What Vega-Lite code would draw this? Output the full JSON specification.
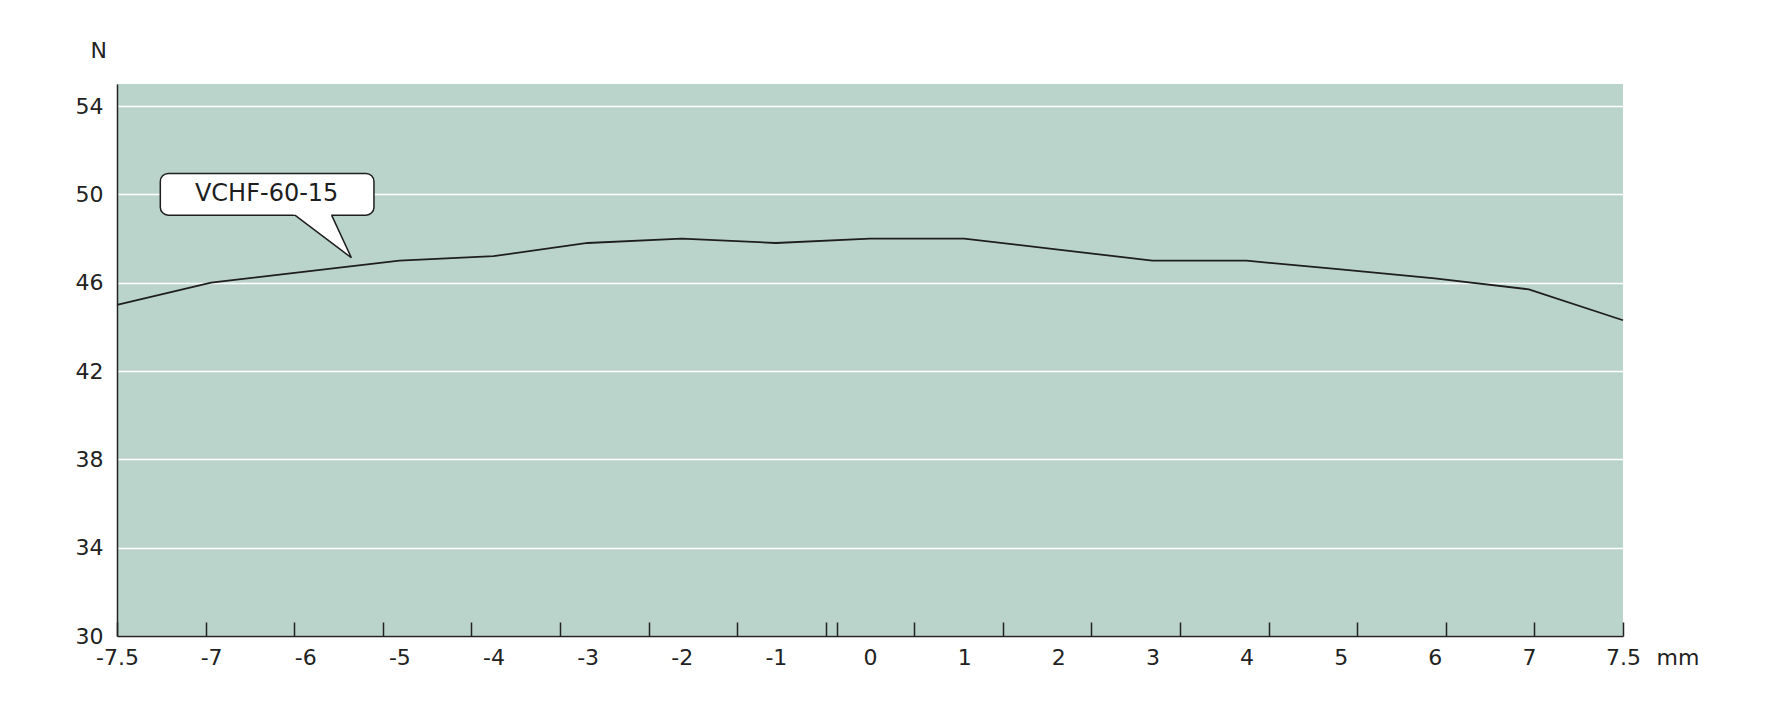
{
  "$schema": "https://vega.github.io/schema/vega-lite/v6.json",
  "width": 1506,
  "height": 552,
  "autosize": {"type": "none"},
  "padding": {"left": 117, "top": 84, "right": 153, "bottom": 86},
  "config": {
    "font": "DejaVu Sans",
    "view": {"fill": "#BBD4CB", "stroke": null},
    "axis": {"labelFont": "DejaVu Sans", "titleFont": "DejaVu Sans"},
    "axisY": {"titleFontSize": 22}
  },
  "datasets": {
    "curve": [
      {"mm": -7.5, "N": 45.0},
      {"mm": -7, "N": 46.0},
      {"mm": -6, "N": 46.5},
      {"mm": -5, "N": 47.0},
      {"mm": -4, "N": 47.2},
      {"mm": -3, "N": 47.8},
      {"mm": -2, "N": 48.0},
      {"mm": -1, "N": 47.8},
      {"mm": 0, "N": 48.0},
      {"mm": 1, "N": 48.0},
      {"mm": 2, "N": 47.5},
      {"mm": 3, "N": 47.0},
      {"mm": 4, "N": 47.0},
      {"mm": 5, "N": 46.6},
      {"mm": 6, "N": 46.2},
      {"mm": 7, "N": 45.7},
      {"mm": 7.5, "N": 44.3}
    ],
    "callout": [
      {"label": "VCHF-60-15", "mm": -7.27, "mm2": -5.27, "N": 50.95, "N2": 49.06, "mm_text": -6.41, "N_text": 50.0}
    ],
    "pointer_fill": [
      {"N": 49.13, "mm": -6.132, "mm2": -5.728},
      {"N": 47.13, "mm": -5.51, "mm2": -5.51}
    ],
    "pointer": [
      {"seq": 1, "mm": -6.11, "N": 49.06},
      {"seq": 2, "mm": -5.51, "N": 47.13},
      {"seq": 3, "mm": -5.72, "N": 49.06}
    ]
  },
  "resolve": {"axis": {"x": "independent"}},
  "layer": [
    {
      "data": {"name": "curve"},
      "mark": {"type": "line", "color": "#1e1e1e", "strokeWidth": 1.8},
      "encoding": {
        "x": {
          "field": "mm", "type": "quantitative",
          "scale": {"domain": [-7.5, -7, 7, 7.5], "range": [0, 94.125, 1411.875, 1506], "nice": false, "zero": false},
          "axis": {
            "orient": "bottom",
            "values": [-7.5, -7, -6, -5, -4, -3, -2, -1, 0, 1, 2, 3, 4, 5, 6, 7, 7.5],
            "labelExpr": "'' + datum.value",
            "ticks": false, "grid": false,
            "domain": true, "domainColor": "#222222", "domainWidth": 1.5,
            "labelPadding": 11, "labelFontSize": 22, "labelColor": "#222222",
            "labelOverlap": false, "labelFlush": false,
            "title": "mm", "titleFontSize": 22, "titleFontWeight": "normal", "titleColor": "#222222",
            "titleX": 1539, "titleY": 28.5, "titleAlign": "left", "titleBaseline": "alphabetic", "titleAnchor": null
          }
        },
        "y": {
          "field": "N", "type": "quantitative",
          "scale": {"domain": [30, 55], "nice": false, "zero": false},
          "axis": {
            "values": [30, 34, 38, 42, 46, 50, 54],
            "grid": true, "gridColor": "#ffffff", "gridWidth": 1.5, "gridOpacity": 1,
            "ticks": false,
            "domain": true, "domainColor": "#222222", "domainWidth": 1.5,
            "labelPadding": 14, "labelFontSize": 22, "labelColor": "#222222",
            "title": "N", "titleAngle": 0, "titleX": -18.7, "titleY": -27,
            "titleAlign": "center", "titleBaseline": "alphabetic",
            "titleFontSize": 22, "titleFontWeight": "normal", "titleColor": "#222222"
          }
        }
      }
    },
    {
      "data": {"name": "callout"},
      "mark": {"type": "rect", "fill": "#ffffff", "stroke": "#1e1e1e", "strokeWidth": 1.5, "cornerRadius": 8},
      "encoding": {
        "x": {
          "field": "mm", "type": "quantitative",
          "axis": {
            "orient": "bottom",
            "values": [-7.5, -7.0294, -6.1176, -5.1765, -4.2353, -3.2941, -2.3529, -1.4118, -0.4706, -0.354, 0.4706, 1.4118, 2.3529, 3.2941, 4.2353, 5.1765, 6.1176, 7.0294, 7.5],
            "labels": false, "domain": false, "grid": false,
            "ticks": true, "tickSize": -14, "tickColor": "#222222", "tickWidth": 1.5,
            "title": null
          }
        },
        "x2": {"field": "mm2"},
        "y": {"field": "N", "type": "quantitative"},
        "y2": {"field": "N2"}
      }
    },
    {
      "data": {"name": "pointer_fill"},
      "mark": {"type": "area", "orient": "horizontal", "fill": "#ffffff", "stroke": null},
      "encoding": {
        "y": {"field": "N", "type": "quantitative"},
        "x": {"field": "mm", "type": "quantitative", "stack": null, "axis": null},
        "x2": {"field": "mm2"}
      }
    },
    {
      "data": {"name": "pointer"},
      "mark": {"type": "line", "color": "#1e1e1e", "strokeWidth": 1.5},
      "encoding": {
        "x": {"field": "mm", "type": "quantitative", "axis": null},
        "y": {"field": "N", "type": "quantitative"},
        "order": {"field": "seq", "type": "quantitative"}
      }
    },
    {
      "data": {"name": "callout"},
      "mark": {"type": "text", "fontSize": 24, "color": "#1e1e1e", "align": "center", "baseline": "middle"},
      "encoding": {
        "x": {"field": "mm_text", "type": "quantitative", "axis": null},
        "y": {"field": "N_text", "type": "quantitative"},
        "text": {"field": "label"}
      }
    }
  ]
}
